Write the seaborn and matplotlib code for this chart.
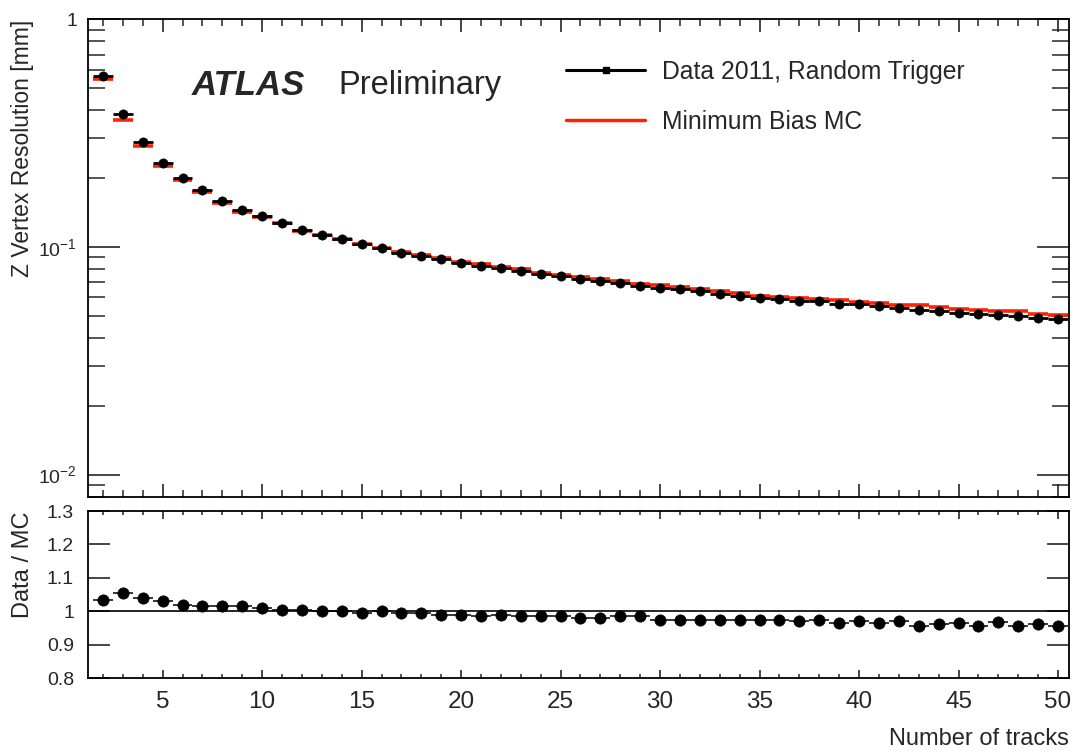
import numpy as np
import matplotlib
matplotlib.use("Agg")
import matplotlib.pyplot as plt
from matplotlib.ticker import MultipleLocator, FixedLocator, FixedFormatter, LogLocator, NullFormatter
from matplotlib.lines import Line2D
import seaborn as sns

# ---- values -------------------------------------------------------------
n_tracks = list(range(2, 51))

data_res = [0.565, 0.382, 0.288, 0.233, 0.200, 0.178, 0.159, 0.145, 0.1366, 0.1276,
            0.1185, 0.1130, 0.1079, 0.1028, 0.0988, 0.0942, 0.0914, 0.0881, 0.0851, 0.0826,
            0.0809, 0.0785, 0.0757, 0.0744, 0.0720, 0.0707, 0.0695, 0.0675, 0.0661, 0.0652,
            0.0639, 0.0624, 0.0610, 0.0597, 0.0589, 0.0578, 0.0578, 0.0564, 0.0559, 0.0549,
            0.0540, 0.0531, 0.0522, 0.0513, 0.0508, 0.0505, 0.0498, 0.0490, 0.0482]

mc_res = [0.546, 0.362, 0.277, 0.226, 0.196, 0.175, 0.1565, 0.1427, 0.1351, 0.1270,
          0.1179, 0.1130, 0.1079, 0.1033, 0.0988, 0.0947, 0.0919, 0.0890, 0.0860, 0.0839,
          0.0817, 0.0797, 0.0769, 0.0755, 0.0735, 0.0721, 0.0706, 0.0685, 0.0678, 0.0669,
          0.0655, 0.0640, 0.0626, 0.0612, 0.0604, 0.0596, 0.0593, 0.0584, 0.0576, 0.0569,
          0.0557, 0.0555, 0.0543, 0.0532, 0.0531, 0.0522, 0.0521, 0.0509, 0.0504]

ratio = [1.035, 1.055, 1.040, 1.030, 1.019, 1.016, 1.016, 1.016, 1.011, 1.005,
         1.005, 1.000, 1.000, 0.995, 1.000, 0.995, 0.995, 0.990, 0.990, 0.985,
         0.990, 0.985, 0.985, 0.985, 0.980, 0.980, 0.985, 0.985, 0.975, 0.975,
         0.975, 0.975, 0.975, 0.975, 0.975, 0.970, 0.975, 0.965, 0.970, 0.965,
         0.970, 0.957, 0.962, 0.964, 0.956, 0.967, 0.956, 0.962, 0.956]

x_title = "Number of tracks"
y_title_top = "Z Vertex Resolution [mm]"
y_title_bottom = "Data / MC"
label_data = "Data 2011, Random Trigger"
label_mc = "Minimum Bias MC"

# ---- style --------------------------------------------------------------
sns.set_theme(style="ticks")
plt.rcParams["font.family"] = ["Liberation Sans", "DejaVu Sans"]
plt.rcParams["mathtext.fontset"] = "custom"
plt.rcParams["mathtext.rm"] = "Liberation Sans"
plt.rcParams["mathtext.it"] = "Liberation Sans:italic"
plt.rcParams["axes.linewidth"] = 1.3
plt.rcParams["axes.edgecolor"] = "black"

RED = "#ff2200"
W, H = 1072, 752
fig = plt.figure(figsize=(W / 100, H / 100), dpi=100)

left, right = 88, 1069
ax1 = fig.add_axes([left / W, 1 - 496.7 / H, (right - left) / W, (496.7 - 19.3) / H])
ax2 = fig.add_axes([left / W, 1 - 678.3 / H, (right - left) / W, (678.3 - 511) / H])

x = np.array(n_tracks, dtype=float)
XLIM = (1.25, 50.55)

# ---- upper panel --------------------------------------------------------
# MC drawn as a flat segment across each bin
ax1.errorbar(x, mc_res, xerr=0.5, fmt="none", ecolor=RED, elinewidth=2.6, zorder=2)
ax1.errorbar(x, data_res, xerr=0.5, fmt="none", ecolor="black", elinewidth=2.0, zorder=3)
sns.scatterplot(x=x, y=data_res, ax=ax1, color="black", marker="o", s=44,
                edgecolor="black", linewidth=0.5, zorder=4, legend=False)
ax1.set_yscale("log")
ax1.set_ylim(0.008, 1.0)
ax1.set_xlim(*XLIM)
ax1.yaxis.set_major_locator(FixedLocator([0.01, 0.1, 1.0]))
ax1.yaxis.set_major_formatter(FixedFormatter([r"$10^{-2}$", r"$10^{-1}$", "1"]))
ax1.yaxis.set_minor_locator(LogLocator(base=10, subs=np.arange(2, 10), numticks=20))
ax1.yaxis.set_minor_formatter(NullFormatter())
ax1.xaxis.set_major_locator(MultipleLocator(5))
ax1.xaxis.set_minor_locator(MultipleLocator(1))
ax1.tick_params(axis="x", which="major", direction="in", length=9.5, width=1.2,
                top=True, bottom=True, labelbottom=False)
ax1.tick_params(axis="x", which="minor", direction="in", length=5, width=1.1,
                top=True, bottom=True)
ax1.tick_params(axis="y", which="major", direction="in", length=23, width=1.2,
                left=True, right=True, labelsize=14, pad=8)
ax1.tick_params(axis="y", which="minor", direction="in", length=12, width=1.1,
                left=True, right=True)
ax1.set_xlabel("")
ax1.set_ylabel(y_title_top, fontsize=16.5, loc="top")
ax1.yaxis.set_label_coords(-0.055, 1.0)

ax1.text((192 - left) / (right - left), 0.862, "ATLAS", transform=ax1.transAxes,
         fontsize=25, fontweight="bold", fontstyle="italic", va="center", ha="left")
ax1.text((338 - left) / (right - left), 0.862, "Preliminary", transform=ax1.transAxes,
         fontsize=23.5, va="center", ha="left")

handles = [
    Line2D([], [], color="black", lw=2.2, marker="s", markersize=5),
    Line2D([], [], color=RED, lw=2.5),
]
ax1.legend(handles, [label_data, label_mc], loc="upper left",
           bbox_to_anchor=(566 / W, 1 - 60 / H), bbox_transform=fig.transFigure,
           frameon=False, fontsize=17.8, handlelength=3.2, handletextpad=0.7,
           labelspacing=1.05, borderpad=0, borderaxespad=0)

# ---- ratio panel --------------------------------------------------------
ax2.axhline(1.0, color="black", lw=1.2, zorder=1)
ax2.errorbar(x, ratio, xerr=0.5, fmt="none", ecolor="black", elinewidth=1.1, zorder=2)
sns.scatterplot(x=x, y=ratio, ax=ax2, color="black", marker="o", s=66,
                edgecolor="black", linewidth=0.5, zorder=3, legend=False)
ax2.set_xlim(*XLIM)
ax2.set_ylim(0.8, 1.3)
ax2.yaxis.set_major_locator(FixedLocator([0.8, 0.9, 1.0, 1.1, 1.2, 1.3]))
ax2.yaxis.set_major_formatter(FixedFormatter(["0.8", "0.9", "1", "1.1", "1.2", "1.3"]))
ax2.xaxis.set_major_locator(MultipleLocator(5))
ax2.xaxis.set_minor_locator(MultipleLocator(1))
ax2.tick_params(axis="x", which="major", direction="in", length=6, width=1.2,
                top=True, bottom=True, labelsize=17.5, pad=9)
ax2.tick_params(axis="x", which="minor", direction="in", length=3, width=1.1,
                top=True, bottom=True)
ax2.tick_params(axis="y", which="major", direction="in", length=16, width=1.2,
                left=True, right=True, labelsize=14, pad=10)
ax2.set_ylabel(y_title_bottom, fontsize=17, loc="top")
ax2.yaxis.set_label_coords(-0.055, 1.0)
ax2.set_xlabel(x_title, fontsize=17, loc="right")
ax2.xaxis.set_label_coords(1.0, -0.30)

fig.savefig("out.png", dpi=100, facecolor="white")
